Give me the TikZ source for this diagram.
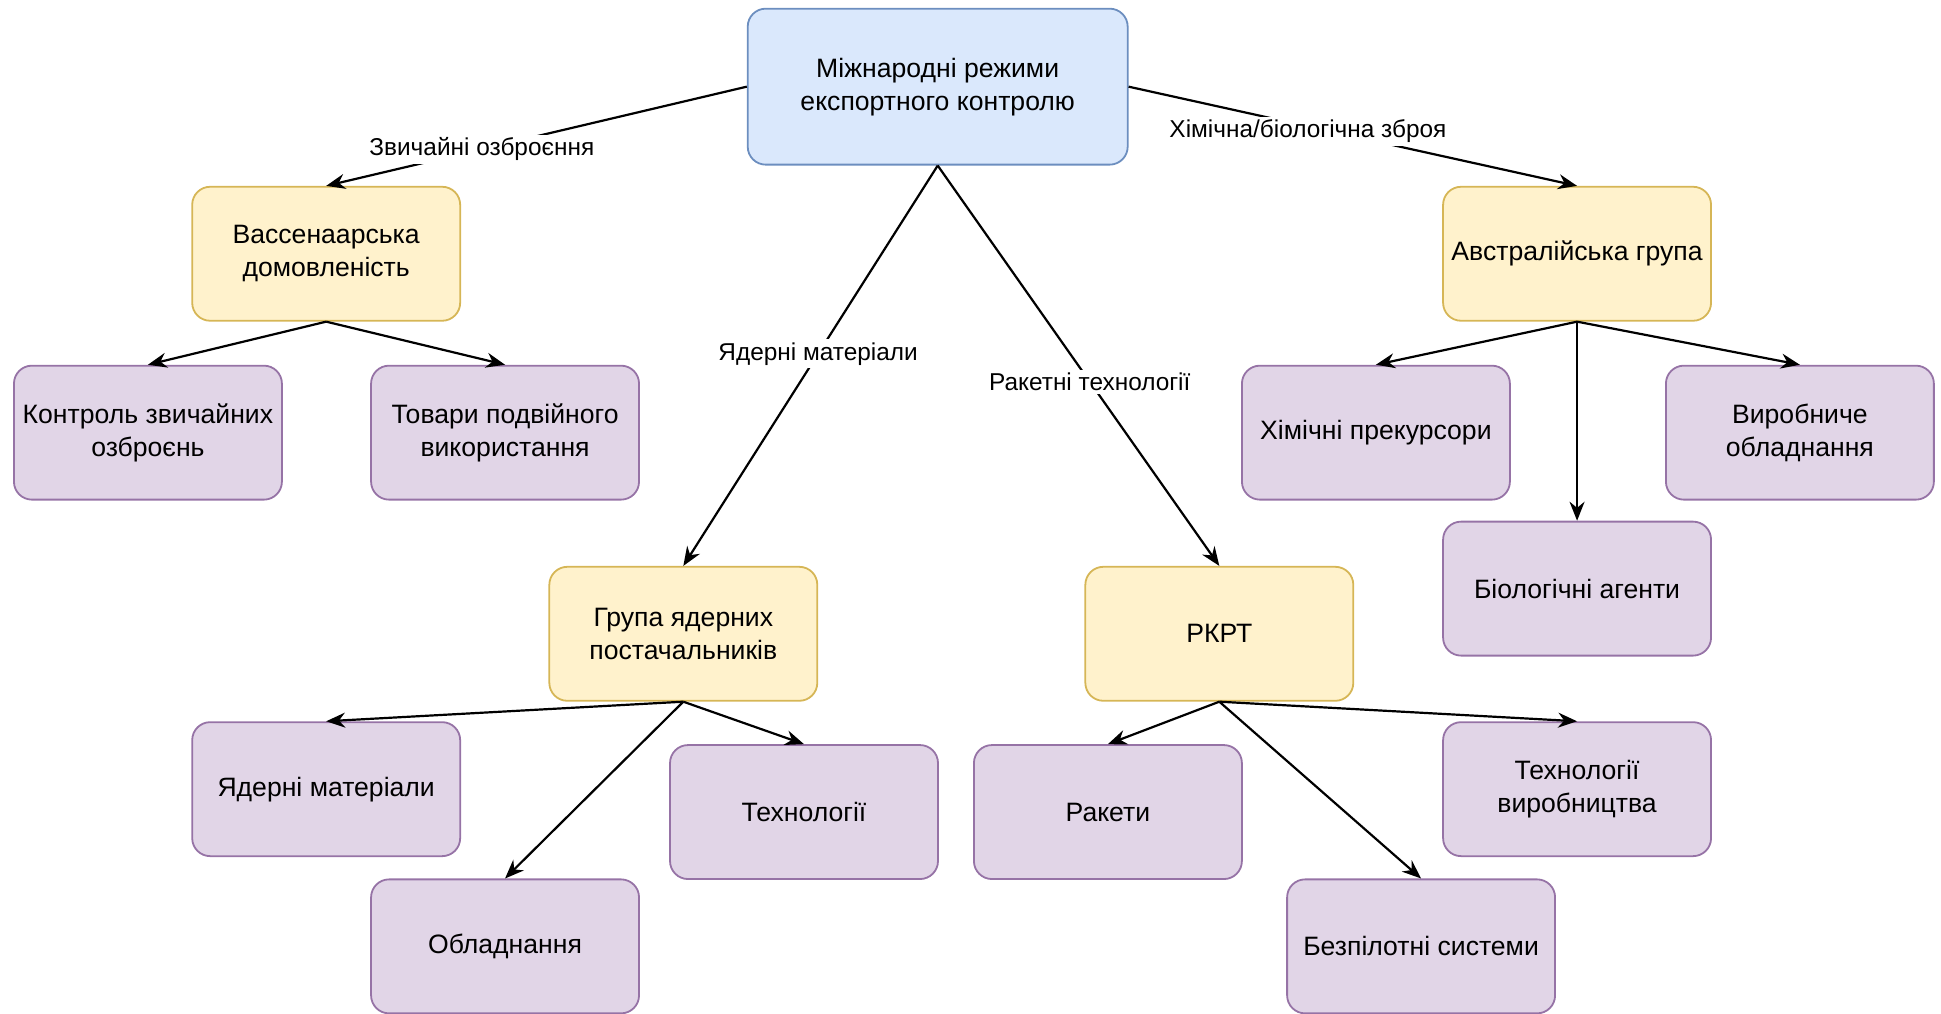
\documentclass[tikz,border=0pt]{standalone}
\usepackage{fontspec}
\setmainfont{Liberation Sans}
\usetikzlibrary{arrows.meta}
\definecolor{blueF}{HTML}{DAE8FC}
\definecolor{blueD}{HTML}{6C8EBF}
\definecolor{yellowF}{HTML}{FFF2CC}
\definecolor{yellowD}{HTML}{D6B656}
\definecolor{purpleF}{HTML}{E1D5E7}
\definecolor{purpleD}{HTML}{9673A6}

\begin{document}
\begin{tikzpicture}[x=0.619pt,y=-0.619pt,
        box/.style={draw,rounded corners=9pt,line width=0.9pt,minimum width=134pt,minimum height=67pt,align=center,font=\fontsize{13.3}{16.5}\selectfont},
        rootbox/.style={box,fill=blueF,draw=blueD,minimum width=190pt,minimum height=78pt},
        groupbox/.style={box,fill=yellowF,draw=yellowD},
        itembox/.style={box,fill=purpleF,draw=purpleD},
        link/.style={line width=1.1pt,-{Stealth[length=9.5pt,width=7.5pt]}},
        lbl/.style={fill=white,inner sep=1.5pt,font=\fontsize{12.2}{14}\selectfont}]
        \useasboundingbox (0,0) rectangle (1568,819);

        % top
        \node[rootbox] (root) at (757.5,70) {Міжнародні режими\\експортного контролю};

        % groups
        \node[groupbox] (wass) at (263.5,205) {Вассенаарська\\домовленість};
        \node[groupbox] (aus) at (1274,205) {Австралійська група};
        \node[groupbox] (nsg) at (552,512) {Група ядерних\\постачальників};
        \node[groupbox] (mtcr) at (985,512) {РКРТ};

        % items
        \node[itembox] (conv) at (119.5,349.5) {Контроль звичайних\\озброєнь};
        \node[itembox] (dual) at (408,349.5) {Товари подвійного\\використання};
        \node[itembox] (chem) at (1111.5,349.5) {Хімічні прекурсори};
        \node[itembox] (prod) at (1454,349.5) {Виробниче\\обладнання};
        \node[itembox] (bio) at (1274,475.5) {Біологічні агенти};
        \node[itembox] (nmat) at (263.5,637.5) {Ядерні матеріали};
        \node[itembox] (ntech) at (649.5,656) {Технології};
        \node[itembox] (nequip) at (408,764.5) {Обладнання};
        \node[itembox] (rock) at (895,656) {Ракети};
        \node[itembox] (mtech) at (1274,637.5) {Технології\\виробництва};
        \node[itembox] (uav) at (1148,764.5) {Безпілотні системи};

        % links from the top
        \draw[link] (root.west) -- node[lbl,pos=0.63] {Звичайні озброєння} (wass.north);
        \draw[link] (root.east) -- node[lbl,pos=0.4,yshift=-2.5pt] {Хімічна/біологічна зброя} (aus.north);
        \draw[link] (root.south) -- node[lbl,pos=0.47] {Ядерні матеріали} (nsg.north);
        \draw[link] (root.south) -- node[lbl,pos=0.54] {Ракетні технології} (mtcr.north);

        % links to items
        \foreach \a/\b in {wass/conv,wass/dual,aus/chem,aus/prod,aus/bio,nsg/nmat,nsg/ntech,nsg/nequip,mtcr/rock,mtcr/mtech,mtcr/uav}
            \draw[link] (\a.south) -- (\b.north);
    \end{tikzpicture}
\end{document}
